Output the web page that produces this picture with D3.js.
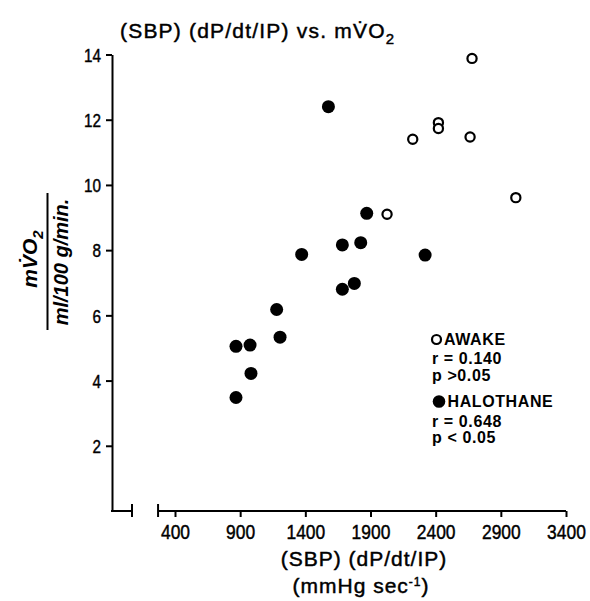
<!DOCTYPE html>
<html>
<head>
<meta charset="utf-8">
<script src="https://cdn.jsdelivr.net/npm/d3@7/dist/d3.min.js"></script>
<style>
  html, body { margin: 0; padding: 0; background: #fff; }
  svg { display: block; }
  text { font-family: "Liberation Sans", Arial, Helvetica, sans-serif; fill: #000; }
  .med { stroke: #000; stroke-width: 0.45; }
</style>
</head>
<body>
<svg id="chart" width="590" height="601"></svg>
<script>
// ---- data ----
const awakeX = [2679, 2421, 2421, 2224, 2664, 3015, 2027];
const awakeY = [13.88, 11.91, 11.73, 11.40, 11.47, 9.61, 9.10];
const haloX = [1577, 1871, 1684, 1825, 1372, 2319, 1684, 1776, 1180, 1206, 868, 976, 983, 868];
const haloY = [12.40, 9.13, 8.16, 8.23, 7.87, 7.85, 6.80, 6.98, 6.18, 5.33, 5.05, 5.09, 4.22, 3.48];
const xTicks = [400, 900, 1400, 1900, 2400, 2900, 3400];
const yTicks = [2, 4, 6, 8, 10, 12, 14];
const awakeLegend = ["AWAKE", "r = 0.140", "p >0.05"];
const haloLegend = ["HALOTHANE", "r = 0.648", "p < 0.05"];
const xAxisStart = 270;   // where the (broken) x axis resumes
const xBreakMark = 70;    // break marker near origin

// ---- layout ----
const svg = d3.select("#chart");
svg.append("rect").attr("width", 590).attr("height", 601).attr("fill", "#fff");

const x = d3.scaleLinear().domain([400, 3400]).range([175, 566]);
const y = d3.scaleLinear().domain([0, 14]).range([511, 54.5]);
const yAxisX = 112;

// Title
const title = svg.append("text").attr("class", "med").attr("x", 120).attr("y", 38)
  .attr("font-size", 21).attr("letter-spacing", 1.2);
title.append("tspan").text("(SBP) (dP/dt/IP) vs. mV\u0307O");
title.append("tspan").attr("dy", 6).attr("font-size", 15).text("2");

// Y axis
const yAxis = d3.axisLeft(y).tickValues(yTicks).tickSize(6).tickSizeOuter(0).tickPadding(5);
const gy = svg.append("g").attr("transform", `translate(${yAxisX},0)`).call(yAxis);
gy.select(".domain").attr("stroke-width", 2).attr("stroke", "#000");
gy.selectAll(".tick line").attr("stroke-width", 2).attr("stroke", "#000");
gy.selectAll(".tick text").attr("class", "med").attr("font-size", 19)
  .attr("font-family", null).attr("fill", "#000").attr("dy", "0.36em")
  .attr("textLength", d => String(d).length * 8.5).attr("lengthAdjust", "spacingAndGlyphs");

// X axis (broken)
const xAxis = d3.axisBottom(x).tickValues(xTicks).tickSize(6).tickSizeOuter(0).tickPadding(6)
  .tickFormat(d3.format("d"));
const gx = svg.append("g").attr("transform", `translate(0,${y(0)})`).call(xAxis);
gx.select(".domain").remove();
gx.selectAll(".tick line").attr("stroke-width", 2).attr("stroke", "#000");
gx.selectAll(".tick text").attr("class", "med").attr("font-size", 21)
  .attr("font-family", null).attr("fill", "#000").attr("dy", "0.75em")
  .attr("textLength", d => String(d).length * 9.7).attr("lengthAdjust", "spacingAndGlyphs");

const axisY0 = y(0);
// main x axis line
svg.append("line").attr("x1", x(xAxisStart)).attr("x2", x(3400))
  .attr("y1", axisY0).attr("y2", axisY0).attr("stroke", "#000").attr("stroke-width", 2);
svg.append("line").attr("x1", x(xAxisStart)).attr("x2", x(xAxisStart))
  .attr("y1", axisY0 - 7).attr("y2", axisY0 + 6).attr("stroke", "#000").attr("stroke-width", 2);
// short segment from origin to break marker
svg.append("line").attr("x1", yAxisX - 1).attr("x2", x(xBreakMark))
  .attr("y1", axisY0).attr("y2", axisY0).attr("stroke", "#000").attr("stroke-width", 2);
svg.append("line").attr("x1", x(xBreakMark)).attr("x2", x(xBreakMark))
  .attr("y1", axisY0 - 7).attr("y2", axisY0 + 6).attr("stroke", "#000").attr("stroke-width", 2);

// Y axis label (fraction)
const yl1 = svg.append("text").attr("transform", "translate(37,259) rotate(-90)")
  .attr("text-anchor", "middle").attr("font-size", 21).attr("font-weight", "bold")
  .attr("font-style", "italic");
yl1.append("tspan").text("mV\u0307O");
yl1.append("tspan").attr("dy", 6).attr("font-size", 15).text("2");
svg.append("line").attr("x1", 47.5).attr("x2", 47.5).attr("y1", 193).attr("y2", 330)
  .attr("stroke", "#000").attr("stroke-width", 2);
svg.append("text").attr("transform", "translate(68,262) rotate(-90)")
  .attr("text-anchor", "middle").attr("font-size", 20).attr("font-weight", "bold")
  .attr("font-style", "italic").text("ml/100 g/min.");

// X axis label
svg.append("text").attr("class", "med").attr("x", 364).attr("y", 566).attr("text-anchor", "middle")
  .attr("font-size", 21).attr("letter-spacing", 1).text("(SBP) (dP/dt/IP)");
const xl2 = svg.append("text").attr("class", "med").attr("x", 361).attr("y", 593).attr("text-anchor", "middle")
  .attr("font-size", 21).attr("letter-spacing", 1);
xl2.append("tspan").text("(mmHg sec");
xl2.append("tspan").attr("dy", -7).attr("font-size", 12).text("-1");
xl2.append("tspan").attr("dy", 7).text(")");

// Points
const awake = awakeX.map((v, i) => ({ x: v, y: awakeY[i] }));
const halo = haloX.map((v, i) => ({ x: v, y: haloY[i] }));
svg.append("g").selectAll("circle").data(halo).join("circle")
  .attr("cx", d => x(d.x)).attr("cy", d => y(d.y)).attr("r", 6.5).attr("fill", "#000");
svg.append("g").selectAll("circle").data(awake).join("circle")
  .attr("cx", d => x(d.x)).attr("cy", d => y(d.y)).attr("r", 4.6)
  .attr("fill", "#fff").attr("stroke", "#000").attr("stroke-width", 2.2);

// Legend
const lg = svg.append("g");
lg.append("circle").attr("cx", 436.5).attr("cy", 339.5).attr("r", 4.5)
  .attr("fill", "#fff").attr("stroke", "#000").attr("stroke-width", 2.2);
const awakeBase = [345, 364, 381];
const haloBase = [407, 427, 443];
awakeLegend.forEach((t, i) => {
  lg.append("text").attr("x", i === 0 ? 444 : 432).attr("y", awakeBase[i])
    .attr("font-size", 16).attr("font-weight", "bold").attr("letter-spacing", 0.6).text(t);
});
lg.append("circle").attr("cx", 439).attr("cy", 401.5).attr("r", 6.3).attr("fill", "#000");
haloLegend.forEach((t, i) => {
  lg.append("text").attr("x", i === 0 ? 447.5 : 432).attr("y", haloBase[i])
    .attr("font-size", 16).attr("font-weight", "bold").attr("letter-spacing", 0.6).text(t);
});
</script>
</body>
</html>
